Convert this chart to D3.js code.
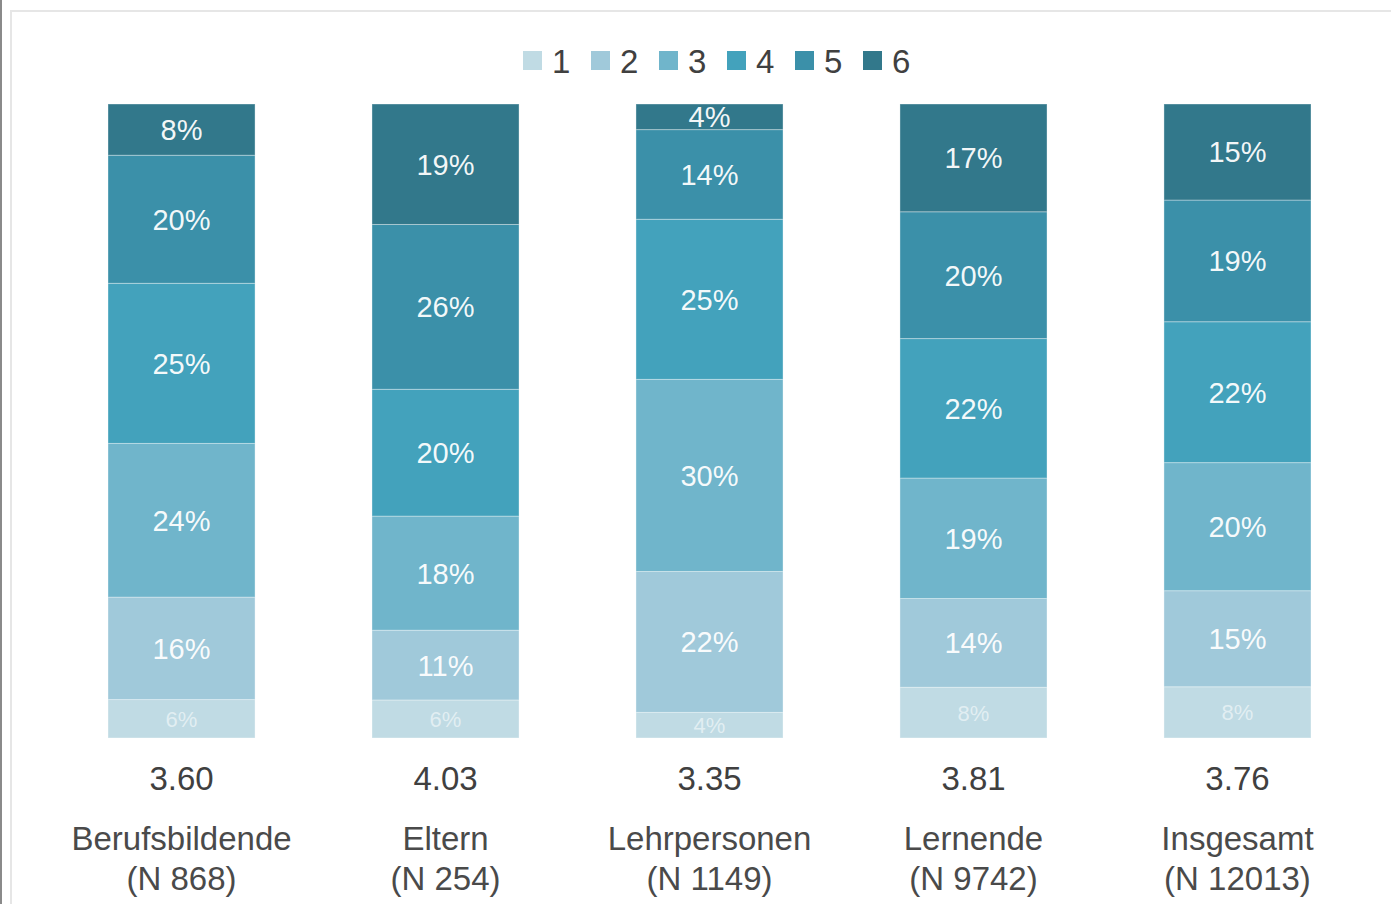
<!DOCTYPE html>
<html><head><meta charset="utf-8">
<script src="https://cdn.jsdelivr.net/npm/d3@7"></script>
<style>html,body{margin:0;padding:0;background:#fff;}svg{display:block;}</style>
</head><body>
<svg id="chart" width="1391" height="904"></svg>
<script>
const groups = ["Berufsbildende", "Eltern", "Lehrpersonen", "Lernende", "Insgesamt"];
const groupN = ["(N 868)", "(N 254)", "(N 1149)", "(N 9742)", "(N 12013)"];
const means = ["3.60", "4.03", "3.35", "3.81", "3.76"];
const levels = ["1", "2", "3", "4", "5", "6"];
const s1 = [6, 6, 4, 8, 8];
const s2 = [16, 11, 22, 14, 15];
const s3 = [24, 18, 30, 19, 20];
const s4 = [25, 20, 25, 22, 22];
const s5 = [20, 26, 14, 20, 19];
const s6 = [8, 19, 4, 17, 15];
const colors = ["#c0dbe4", "#a0c9da", "#70b5cb", "#43a2bc", "#3b90a9", "#32788b"];

const series = [s1, s2, s3, s4, s5, s6];
const svg = d3.select("#chart");
const font = "'Liberation Sans', Arial, sans-serif";

// frame
svg.append("rect").attr("x", 0).attr("y", 0).attr("width", 2).attr("height", 904).attr("fill", "#8a8a8a");
svg.append("path").attr("d", "M11,904 V11 H1391").attr("fill", "none").attr("stroke", "#e6e6e6").attr("stroke-width", 2);

const x = d3.scaleBand().domain(groups).range([108, 1311]).paddingInner(0.443).paddingOuter(0);
const y = d3.scaleLinear().domain([0, 1]).range([738, 104]);
const color = d3.scaleOrdinal().domain(levels).range(colors);

const rows = groups.map((g, i) => {
  const r = {group: g};
  const tot = d3.sum(series, s => s[i]);
  levels.forEach((l, k) => { r[l] = series[k][i] / tot; r["v" + l] = series[k][i]; });
  return r;
});
const stacked = d3.stack().keys(levels)(rows);

const layer = svg.append("g").selectAll("g").data(stacked).join("g")
  .attr("fill", d => color(d.key));
layer.selectAll("rect").data(d => d).join("rect")
  .attr("x", d => x(d.data.group))
  .attr("width", x.bandwidth())
  .attr("y", d => y(d[1]))
  .attr("height", d => y(d[0]) - y(d[1]))
  .attr("stroke", "rgba(255,255,255,0.35)").attr("stroke-width", 1);

// labels
stacked.forEach(s => {
  const small = s.key === "1";
  svg.append("g").selectAll("text").data(s).join("text")
    .attr("x", d => x(d.data.group) + x.bandwidth() / 2)
    .attr("y", d => (y(d[0]) + y(d[1])) / 2)
    .attr("dy", "0.36em")
    .attr("text-anchor", "middle")
    .attr("font-family", font)
    .attr("font-size", small ? 22 : 29)
    .attr("fill", "#ffffff")
    .attr("fill-opacity", small ? 0.55 : 0.95)
    .text(d => d.data["v" + s.key] + "%");
});

// means and category labels
const lab = svg.append("g").selectAll("g").data(groups).join("g")
  .attr("transform", d => `translate(${x(d) + x.bandwidth() / 2},0)`);
lab.append("text").attr("y", 790).attr("text-anchor", "middle")
  .attr("font-family", font).attr("font-size", 33).attr("fill", "#404040")
  .text((d, i) => means[i]);
lab.append("text").attr("y", 850).attr("text-anchor", "middle")
  .attr("font-family", font).attr("font-size", 33).attr("fill", "#4a4a4a")
  .text(d => d);
lab.append("text").attr("y", 890).attr("text-anchor", "middle")
  .attr("font-family", font).attr("font-size", 33).attr("fill", "#4a4a4a")
  .text((d, i) => groupN[i]);

// legend
const leg = svg.append("g").selectAll("g").data(levels).join("g")
  .attr("transform", (d, i) => `translate(${523 + i * 68},51)`);
leg.append("rect").attr("width", 19).attr("height", 19).attr("fill", d => color(d));
leg.append("text").attr("x", 29).attr("y", 10).attr("dy", "0.36em")
  .attr("font-family", font).attr("font-size", 33).attr("fill", "#404040")
  .text(d => d);
</script>
</body></html>
